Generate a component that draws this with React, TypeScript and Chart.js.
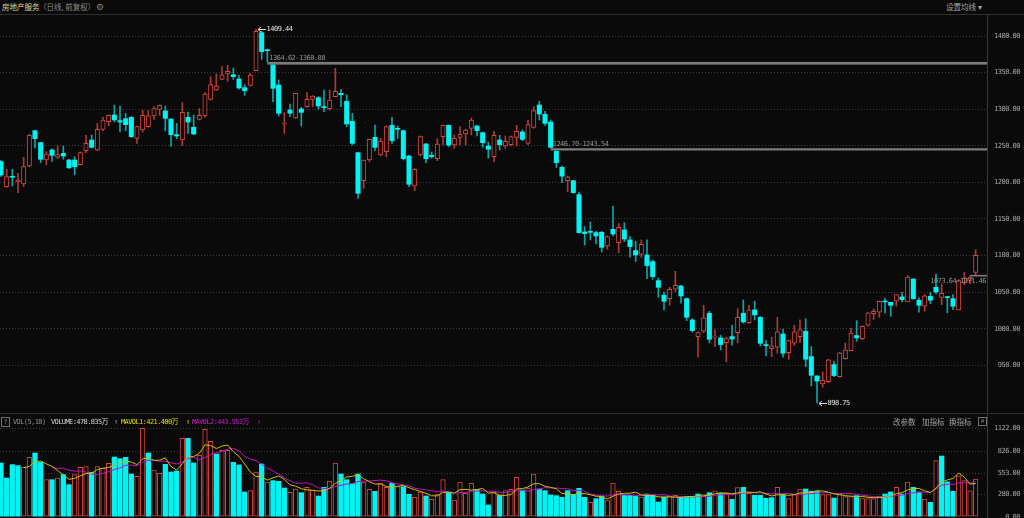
import React, { useEffect, useRef } from "react";
import { Chart, registerables } from "chart.js";

Chart.register(...registerables);

// ---------------- data (daily candles, 前复权) ----------------
const opens: number[] = [
  1228.4, 1194.2, 1208, 1200.6, 1197.8, 1222.4, 1270.7, 1254.3, 1230.6, 1244.3,
  1234.3, 1239.7, 1230.6, 1230.6, 1224.2, 1243.4, 1257.9, 1244.3, 1272.5, 1283,
  1292.1, 1284.4, 1287.1, 1288.9, 1260.2, 1271.6, 1276.2, 1290.7, 1299.8, 1297.6,
  1286.6, 1265.2, 1257.9, 1288.9, 1275.3, 1286.2, 1290.7, 1313.5, 1326.2, 1340.8,
  1348.1, 1347.1, 1341.3, 1329.4, 1332.6, 1352.6, 1404.6, 1381, 1360.8, 1333,
  1279.8, 1298.9, 1288, 1300.3, 1303.5, 1313.5, 1315.8, 1303.5, 1300.7, 1317.1,
  1321.7, 1310.7, 1283.4, 1240.6, 1202.4, 1230.6, 1261.6, 1237.4, 1242, 1278,
  1273.9, 1270.7, 1236.1, 1195.1, 1237.4, 1252.5, 1237, 1232.4, 1262.5, 1278,
  1251.1, 1261.6, 1266.1, 1273.9, 1277.1, 1267.9, 1249.7, 1235.2, 1257.9, 1249.7,
  1251.6, 1261.6, 1268.9, 1253.4, 1275.2, 1305.7, 1293, 1282.5, 1242.4, 1220.6,
  1202.4, 1202.4, 1183.3, 1132.3, 1133, 1131.4, 1131.8, 1113.1, 1135.9, 1117.7,
  1135, 1121.4, 1106.8, 1101.8, 1100.9, 1091.8, 1065.8, 1045.8, 1041.2, 1054,
  1058.5, 1041.2, 1012.1, 989.3, 996.6, 1021.2, 988.7, 987.5, 981.1, 989.3,
  994.8, 1021.2, 1008.4, 1025.8, 1015.7, 978.4, 972.9, 974.8, 992.9, 967.5,
  980.2, 989.3, 996.6, 962, 935.6, 924.7, 927.9, 951.1, 934.7, 959.3,
  970.2, 990.7, 986.6, 1004.8, 1020.8, 1022.6, 1037.6, 1036.2, 1037.6, 1043.5,
  1036.7, 1068.1, 1039, 1030.8, 1044.4, 1056.7, 1043, 1043.5, 1041.2, 1025.8,
  1063, 1066, 1077,
];

const highs: number[] = [
  1230, 1217.9, 1218, 1212.4, 1234.3, 1266.1, 1271, 1254.8, 1242, 1246,
  1249.7, 1249.7, 1231.5, 1235.2, 1241.5, 1264.3, 1264.8, 1280.7, 1288.9, 1292.1,
  1305.3, 1304.4, 1294.4, 1289.8, 1277.1, 1298.9, 1298, 1303.5, 1305.8, 1304.4,
  1287, 1280.7, 1308.9, 1296.2, 1292.1, 1300.7, 1322.6, 1344.5, 1348.1, 1358.1,
  1360, 1356.3, 1346.3, 1333.5, 1349, 1409.44, 1406.4, 1382, 1360.88, 1340,
  1295.3, 1307.1, 1321.7, 1302.6, 1322.6, 1318.5, 1317.1, 1326.2, 1326.2, 1355.8,
  1327.1, 1319.8, 1294.4, 1240.6, 1230.6, 1258.8, 1278.4, 1260.2, 1277.1, 1288.9,
  1277, 1271.6, 1237, 1218.8, 1263.4, 1253.4, 1241.5, 1259.7, 1278, 1278.4,
  1264.8, 1276.1, 1272.5, 1288, 1278, 1268.9, 1255.2, 1269.8, 1264.3, 1263.4,
  1263.4, 1278, 1271.6, 1285.3, 1303.5, 1310.7, 1297.1, 1285.3, 1243.54, 1222.4,
  1208.8, 1202.4, 1186.9, 1139.5, 1146, 1133.2, 1133.2, 1126.8, 1167.8, 1144,
  1145, 1125.9, 1119.5, 1121.4, 1121.4, 1094, 1069.5, 1050.3, 1056.7, 1078.6,
  1059.4, 1042.1, 1013.9, 995.7, 1032.1, 1023.9, 998.4, 991.2, 988.4, 1004.8,
  1027.6, 1039.4, 1032.1, 1037.6, 1016.6, 983.9, 988.4, 1015.7, 999.3, 984.8,
  1004.8, 1012.1, 1013.9, 975.7, 935.6, 941.1, 958.4, 955.6, 968, 980.5,
  1001, 1011.2, 1004, 1022, 1027.1, 1038, 1042.1, 1036.2, 1046.7, 1049.9,
  1072.7, 1068.1, 1042.2, 1046.7, 1049.9, 1074.9, 1061.3, 1044.4, 1046.7, 1067.2,
  1077, 1071.46, 1108,
];

const lows: number[] = [
  1208, 1193.3, 1195, 1186, 1194.2, 1221.5, 1247, 1227, 1224.2, 1228.8,
  1232.4, 1231.5, 1218.8, 1210.6, 1223.8, 1240.7, 1247, 1243.4, 1270.7, 1277.1,
  1282.5, 1268.9, 1270.7, 1261.6, 1253.4, 1268.9, 1275.3, 1286.2, 1291.6, 1270.7,
  1249, 1259.8, 1250.6, 1267, 1265.2, 1285.3, 1288.9, 1312.6, 1325.3, 1340.8,
  1338.1, 1340.8, 1327.2, 1319, 1331.7, 1352.6, 1368.1, 1364.62, 1310.3, 1290.7,
  1267, 1289.8, 1287, 1277.1, 1302.6, 1303.5, 1300, 1296.6, 1298.9, 1317.1,
  1303.5, 1276.1, 1251.1, 1178.2, 1191.9, 1228.3, 1243.4, 1236.1, 1235.2, 1253.4,
  1260.2, 1230.6, 1194.2, 1188.7, 1236.1, 1227, 1232.9, 1229.7, 1251.1, 1248.8,
  1246.5, 1251.1, 1251.1, 1264.8, 1263.4, 1247.9, 1232.9, 1228.3, 1244.3, 1246.5,
  1249.7, 1249.7, 1257, 1251.6, 1273.9, 1285.3, 1278, 1246.7, 1220.6, 1199.6,
  1187.4, 1185.1, 1130.5, 1114.5, 1121.3, 1115.9, 1105, 1108.6, 1126.8, 1104,
  1119, 1097.7, 1091.8, 1097.7, 1068.5, 1067.6, 1043, 1025.8, 1032.1, 1050.8,
  1034.9, 1011.2, 995.7, 961.1, 994.8, 981.1, 975.7, 971.1, 954.7, 977.5,
  981.1, 1007.5, 1007.5, 1012.1, 976.6, 962.9, 962, 966.6, 961.1, 958.4,
  977.5, 981.1, 948.4, 921.9, 898.75, 920.1, 926.5, 934.7, 933.8, 958.4,
  970, 983, 985.2, 1003.5, 1012.6, 1015.7, 1021.7, 1017.1, 1030.8, 1036.7,
  1036.7, 1039.9, 1022.6, 1024, 1034.4, 1047.6, 1033, 1021.7, 1026.2, 1025.8,
  1059.8, 1061.5, 1073.64,
];

const closes: number[] = [
  1210.1, 1207.9, 1207, 1203.3, 1221.5, 1264.8, 1259.8, 1231.5, 1238.8, 1237,
  1238, 1236, 1220, 1221.5, 1240.7, 1253.4, 1247.9, 1272.5, 1285.3, 1291.6,
  1285.3, 1282.5, 1278.9, 1262.5, 1276.2, 1291.6, 1290.8, 1300.7, 1305.3, 1287.5,
  1265.2, 1263.4, 1295.7, 1282.5, 1266.1, 1291.6, 1320.8, 1333.5, 1331.7, 1347.1,
  1351.7, 1344.5, 1329, 1325.3, 1346.7, 1406.4, 1378.6, 1380, 1328.5, 1294.4,
  1281.1, 1294.4, 1321.7, 1295.7, 1313.5, 1318, 1304.4, 1302.1, 1312.6, 1324.4,
  1319.8, 1279.8, 1253.4, 1185.1, 1230.6, 1258.8, 1247.9, 1256.6, 1276.1, 1257,
  1272.5, 1232.4, 1197.4, 1217.9, 1262.5, 1232.4, 1235.2, 1252.5, 1278, 1251.1,
  1260.2, 1266.1, 1271.6, 1285.3, 1270.7, 1254.3, 1245.2, 1264.3, 1251.6, 1256.1,
  1262.5, 1269.8, 1258.8, 1278.9, 1298, 1293.4, 1280.7, 1247.9, 1227, 1208.5,
  1207.5, 1186, 1131.4, 1130, 1131.8, 1126.8, 1111.3, 1125.9, 1129.5, 1138.6,
  1122.7, 1112.3, 1100.9, 1115.4, 1086.3, 1071.3, 1056.7, 1037.6, 1054, 1059.4,
  1044.9, 1015.7, 997.5, 994.8, 1014.8, 985.7, 989.4, 978.4, 986.6, 986,
  1015.7, 1009.4, 1025.8, 1018.9, 980.2, 977, 976.6, 995.7, 966.6, 983.9,
  995.7, 998.4, 958.4, 936.5, 928.5, 929.6, 957.5, 936.1, 967, 971,
  994, 987.5, 1003.5, 1021.7, 1023.9, 1037.6, 1036.7, 1032.1, 1046.7, 1039.9,
  1070.8, 1041.2, 1032.1, 1044.9, 1039, 1050.3, 1048.5, 1042.6, 1030.8, 1065.8,
  1068.9, 1070.5, 1100.5,
];

// volume in 万
const volumes: number[] = [
  682, 491, 661, 648, 631, 754, 809, 690, 470, 470,
  491, 534, 407, 534, 627, 635, 563, 635, 618, 678,
  758, 737, 754, 542, 513, 1122, 809, 593, 551, 665,
  568, 580, 995, 995, 682, 779, 1110, 957, 796, 843,
  843, 690, 657, 314, 331, 568, 669, 441, 458, 449,
  364, 309, 352, 305, 373, 339, 263, 373, 453, 682,
  542, 470, 420, 542, 441, 348, 322, 428, 373, 424,
  381, 381, 284, 246, 314, 263, 221, 280, 470, 314,
  212, 441, 297, 424, 348, 288, 149, 310, 271, 331,
  348, 500, 339, 365, 542, 352, 331, 276, 267, 246,
  331, 280, 360, 246, 183, 229, 259, 204, 428, 322,
  271, 271, 263, 250, 288, 271, 187, 250, 259, 271,
  250, 250, 254, 288, 280, 305, 327, 301, 297, 221,
  371, 373, 297, 271, 271, 233, 242, 373, 280, 229,
  280, 352, 352, 322, 327, 280, 280, 237, 280, 254,
  254, 267, 229, 229, 229, 263, 288, 314, 373, 288,
  441, 373, 314, 225, 183, 712, 770.52, 442, 322.165, 520,
  458, 328, 478.835,
];

const priceTicks: number[] = [950, 1000, 1050, 1100, 1150, 1200, 1250, 1300, 1350, 1400];
const volumeTicks: number[] = [0, 280, 553, 826, 1122];

// price gaps (candle number where the gap starts, upper and lower edge)
const gapStart: number[] = [48, 98, 172];
const gapUpper: number[] = [1364.62, 1246.7, 1073.64];
const gapLower: number[] = [1360.88, 1243.54, 1071.46];

const MA_SHORT = 5;
const MA_LONG = 10;

// ---------------- styling ----------------
const BG = "#0a0a0a";
const UP = "#d8473f";
const UP_WICK = "#ad3b35";
const DOWN = "#00f4f4";
const DOWN_WICK = "#10a4a4";
const GRID = "#3d3d3d";
const AXIS_TEXT = "#a6a6a6";
const SEP = "#2e2e2e";
const MA1_COLOR = "#c9c200";
const MA2_COLOR = "#c20fc2";
const MONO = "'DejaVu Sans Mono', 'Liberation Mono', monospace";
const CJK = "'Noto Sans CJK SC', 'Noto Sans', sans-serif";

const WIDTH = 1024;
const PRICE_TOP = 15;
const PRICE_H = 397;
const VOL_TOP = 413;
const VOL_H = 105;
const AXIS_W = 33;
const RIGHT_PAD = 4;
const X_MIN = 0.824;
const X_MAX = closes.length + 2;

function movingAverage(values: number[], period: number): (number | null)[] {
  return values.map((_, i) => {
    if (i < period - 1) return null;
    let s = 0;
    for (let k = i - period + 1; k <= i; k++) s += values[k];
    return s / period;
  });
}

const tightText = {
  id: "tightText",
  beforeDraw(chart: any) {
    (chart.ctx as any).letterSpacing = "-0.5px";
  },
};

function yScale(min: number, max: number, ticks: number[], hideZero: boolean) {
  return {
    position: "right" as const,
    min,
    max,
    afterBuildTicks: (s: any) => {
      s.ticks = ticks.map((v) => ({ value: v }));
    },
    afterFit: (s: any) => {
      s.width = AXIS_W;
      s.paddingTop = 0;
      s.paddingBottom = 0;
    },
    grid: {
      color: (c: any) => (hideZero && c.tick && c.tick.value === 0 ? "rgba(0,0,0,0)" : GRID),
      drawTicks: false,
      lineWidth: 1,
    },
    border: { display: true, color: "#383838", dash: [1, 2] },
    ticks: {
      color: AXIS_TEXT,
      font: { family: MONO, size: 7 },
      crossAlign: "far" as const,
      padding: 0,
      autoSkip: false,
      callback: (v: any) => Number(v).toFixed(2),
    },
  };
}

const xScale = {
  type: "linear" as const,
  min: X_MIN,
  max: X_MAX,
  offset: false,
  grace: 0,
  bounds: "data" as const,
  display: false,
  grid: { offset: false },
};

const priceAnnotations = {
  id: "priceAnnotations",
  afterDatasetsDraw(chart: any) {
    const { ctx, chartArea } = chart;
    const xs = chart.scales.x;
    const ys = chart.scales.y;
    ctx.save();
    ctx.beginPath();
    ctx.rect(chartArea.left, chartArea.top, chartArea.right - chartArea.left, chartArea.bottom - chartArea.top);
    ctx.clip();
    ctx.font = `7px ${MONO}`;
    (ctx as any).letterSpacing = "-0.5px";

    gapStart.forEach((idx, k) => {
      const x0 = xs.getPixelForValue(idx);
      const yTop = ys.getPixelForValue(gapUpper[k]);
      const yBot = ys.getPixelForValue(gapLower[k]);
      ctx.fillStyle = "#7b7b7b";
      ctx.fillRect(x0, yTop, chartArea.right - x0, Math.max(1.5, yBot - yTop));
      const label = `${gapUpper[k].toFixed(2)}-${gapLower[k].toFixed(2)}`;
      const w = ctx.measureText(label).width;
      ctx.fillStyle = "#919191";
      if (x0 + 2 + w > chartArea.right) {
        ctx.textAlign = "right";
        ctx.textBaseline = "top";
        ctx.fillText(label, chartArea.right - 1, yBot + 1);
      } else {
        ctx.textAlign = "left";
        ctx.textBaseline = "bottom";
        ctx.fillText(label, x0 + 2, yTop - 0.5);
      }
    });

    const marker = (idx: number, value: number) => {
      const x0 = xs.getPixelForValue(idx + 1);
      const y0 = Math.round(ys.getPixelForValue(value)) + 0.5;
      ctx.strokeStyle = "#dcdcdc";
      ctx.lineWidth = 1;
      ctx.beginPath();
      ctx.moveTo(x0 + 2, y0);
      ctx.lineTo(x0 + 10, y0);
      ctx.moveTo(x0 + 2, y0);
      ctx.lineTo(x0 + 5, y0 - 2.5);
      ctx.moveTo(x0 + 2, y0);
      ctx.lineTo(x0 + 5, y0 + 2.5);
      ctx.stroke();
      ctx.fillStyle = "#e4e4e4";
      ctx.textAlign = "left";
      ctx.textBaseline = "middle";
      ctx.fillText(value.toFixed(2), x0 + 10.5, y0);
    };
    let hi = 0;
    let lo = 0;
    highs.forEach((h, i) => {
      if (h > highs[hi]) hi = i;
    });
    lows.forEach((l, i) => {
      if (l < lows[lo]) lo = i;
    });
    marker(hi, highs[hi]);
    marker(lo, lows[lo]);
    ctx.restore();
  },
};

function PriceChart() {
  const ref = useRef<HTMLCanvasElement>(null);
  useEffect(() => {
    const up = closes.map((c, i) => c >= opens[i]);
    const chart = new Chart(ref.current as HTMLCanvasElement, {
      type: "bar",
      data: {
        datasets: [
          {
            label: "body",
            data: closes.map((c, i) => ({ x: i + 1, y: [opens[i], c] })) as any,
            backgroundColor: up.map((u) => (u ? BG : DOWN)),
            borderColor: up.map((u) => (u ? UP : DOWN)),
            borderWidth: up.map((u) => (u ? 1 : 0)),
            borderSkipped: false,
            barThickness: 4.4,
            minBarLength: 1,
            grouped: false,
            order: 0,
          } as any,
          {
            label: "wick",
            data: highs.map((h, i) => ({ x: i + 1, y: [lows[i], h] })) as any,
            backgroundColor: up.map((u) => (u ? UP_WICK : DOWN_WICK)),
            borderWidth: 0,
            barThickness: 1,
            grouped: false,
            order: 1,
          } as any,
        ],
      },
      options: {
        animation: false,
        responsive: false,
        maintainAspectRatio: false,
        devicePixelRatio: 1,
        layout: { padding: { left: 0, right: RIGHT_PAD, top: 0, bottom: 0 } },
        plugins: { legend: { display: false }, tooltip: { enabled: false } },
        scales: {
          x: xScale,
          y: yScale(886.3, 1428.7, priceTicks, false),
        } as any,
      },
      plugins: [tightText, priceAnnotations],
    });
    return () => chart.destroy();
  }, []);
  return (
    <canvas
      ref={ref}
      width={WIDTH}
      height={PRICE_H}
      style={{ position: "absolute", left: 0, top: PRICE_TOP, width: WIDTH, height: PRICE_H }}
    />
  );
}

function VolumeChart() {
  const ref = useRef<HTMLCanvasElement>(null);
  useEffect(() => {
    const up = volumes.map((_, i) => (i === 0 ? closes[0] >= opens[0] : closes[i] >= closes[i - 1]));
    const ma1 = movingAverage(volumes, MA_SHORT);
    const ma2 = movingAverage(volumes, MA_LONG);
    const chart = new Chart(ref.current as HTMLCanvasElement, {
      type: "bar",
      data: {
        datasets: [
          {
            type: "line",
            label: "MAVOL1",
            data: ma1.map((v, i) => ({ x: i + 1, y: v })) as any,
            borderColor: MA1_COLOR,
            borderWidth: 1,
            pointRadius: 0,
            tension: 0,
            order: 0,
          } as any,
          {
            type: "line",
            label: "MAVOL2",
            data: ma2.map((v, i) => ({ x: i + 1, y: v })) as any,
            borderColor: MA2_COLOR,
            borderWidth: 1,
            pointRadius: 0,
            tension: 0,
            order: 0,
          } as any,
          {
            type: "bar",
            label: "VOLUME",
            data: volumes.map((v, i) => ({ x: i + 1, y: v })) as any,
            backgroundColor: up.map((u) => (u ? BG : DOWN)),
            borderColor: up.map((u) => (u ? UP : DOWN)),
            borderWidth: up.map((u) => (u ? 1 : 0)),
            borderSkipped: false,
            barThickness: 4.6,
            grouped: false,
            order: 1,
          } as any,
        ],
      },
      options: {
        animation: false,
        responsive: false,
        maintainAspectRatio: false,
        devicePixelRatio: 1,
        layout: { padding: { left: 0, right: RIGHT_PAD, top: 0, bottom: 0 } },
        plugins: { legend: { display: false }, tooltip: { enabled: false } },
        scales: {
          x: xScale,
          y: yScale(-16.5, 1317, volumeTicks, true),
        } as any,
      },
      plugins: [tightText],
    });
    return () => chart.destroy();
  }, []);
  return (
    <canvas
      ref={ref}
      width={WIDTH}
      height={VOL_H}
      style={{ position: "absolute", left: 0, top: VOL_TOP, width: WIDTH, height: VOL_H }}
    />
  );
}

const txt = (
  left: number,
  top: number,
  color: string,
  content: React.ReactNode,
  family: string = MONO,
  size = 7,
  extra: React.CSSProperties = {}
) => (
  <div
    style={{
      position: "absolute",
      left,
      top,
      color,
      fontFamily: family,
      fontSize: size,
      lineHeight: "10px",
      whiteSpace: "nowrap",
      letterSpacing: family.startsWith(MONO) ? "-0.6px" : "0px",
      ...extra,
    }}
  >
    {content}
  </div>
);

export default function App() {
  useEffect(() => {
    document.body.style.margin = "0";
    document.body.style.background = BG;
  }, []);

  const n = volumes.length;
  const ma1 = movingAverage(volumes, MA_SHORT);
  const ma2 = movingAverage(volumes, MA_LONG);
  const volText = volumes[n - 1].toFixed(3);
  const ma1Text = (ma1[n - 1] as number).toFixed(3);
  const ma2Text = (ma2[n - 1] as number).toFixed(3);
  const MIX = `${MONO}, ${CJK}`;

  return (
    <div style={{ position: "relative", width: WIDTH, height: 518, background: BG, overflow: "hidden" }}>
      {/* header */}
      {txt(2, 2, "#e0d29a", "房地产服务", CJK, 7.5)}
      {txt(39, 2, "#8a8a8a", "（日线, 前复权）", CJK, 7.5)}
      {txt(96, 1.5, "#7d7d7d", "⚙", "'DejaVu Sans', sans-serif", 9)}
      {txt(946, 2, "#a8a8a8", "设置均线 ▾", CJK, 7.5)}
      <div style={{ position: "absolute", left: 0, top: 14, width: WIDTH, height: 1, background: SEP }} />

      <PriceChart />

      <div style={{ position: "absolute", left: 0, top: 412.5, width: WIDTH, height: 1, background: SEP }} />
      <VolumeChart />

      {/* volume legend */}
      <div
        style={{
          position: "absolute",
          left: 1,
          top: 417,
          width: 7,
          height: 8,
          border: "1px solid #6e6e6e",
          color: "#9a9a9a",
          fontFamily: MONO,
          fontSize: 6,
          lineHeight: "8px",
          textAlign: "center",
        }}
      >
        ?
      </div>
      {txt(13, 417, "#8e8e8e", "VOL(5,10)")}
      {txt(51, 417, "#d8d8d8", `VOLUME:${volText}万`, MIX)}
      {txt(114, 417, "#9a9a9a", "↑")}
      {txt(121, 417, "#e2dc00", `MAVOL1:${ma1Text}万`, MIX)}
      {txt(186, 417, "#cfc900", "↑")}
      {txt(192, 417, "#d11ad1", `MAVOL2:${ma2Text}万`, MIX)}
      {txt(257, 417, "#b516b5", "↑")}

      {txt(893, 416.5, "#a2a2a2", "改参数", CJK, 7.5)}
      {txt(922, 416.5, "#a2a2a2", "加指标", CJK, 7.5)}
      {txt(949, 416.5, "#a2a2a2", "换指标", CJK, 7.5)}
      <div
        style={{
          position: "absolute",
          left: 978,
          top: 417,
          width: 7,
          height: 7,
          border: "1px solid #6e6e6e",
          color: "#9a9a9a",
          fontFamily: MONO,
          fontSize: 7,
          lineHeight: "7px",
          textAlign: "center",
        }}
      >
        ×
      </div>
    </div>
  );
}
